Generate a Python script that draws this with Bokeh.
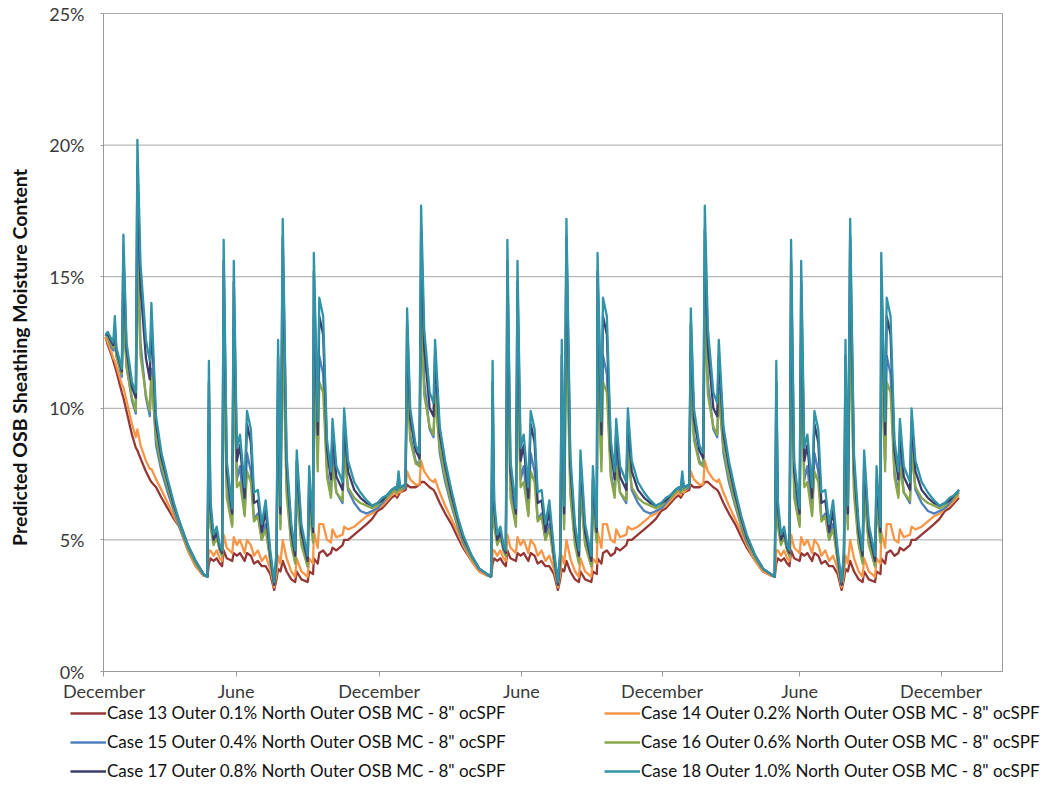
from bokeh.plotting import figure
from bokeh.models import Range1d, FixedTicker, PrintfTickFormatter, Legend, LegendItem, LinearAxis
from bokeh.embed import file_html
from bokeh.resources import INLINE

# ---- axes ----
x_start, x_end = 6.4, 1163          # plotted day span (days from 1 December of year 1)
y_ticks = [0, 5, 10, 15, 20, 25]
tick_days = [7, 177, 361, 544, 725, 902, 1084]
tick_labels = ["December", "June", "December", "June", "December", "June", "December"]

# ---- day grid of the repeating yearly cycle (days after 1 December) ----
cycle_days = [0, 6, 12, 17, 19, 21, 23, 30, 32, 36, 43, 48, 50, 54, 61, 66, 68, 74, 81, 89,
              97, 104, 115, 125, 135, 140, 142, 144, 148, 152, 156, 159, 161, 165, 172, 174, 178, 182, 188, 191,
              196, 200, 205, 210, 215, 221, 226, 229, 231, 234, 237, 242, 248, 253, 255, 261, 269, 271, 276, 277,
              282, 284, 289, 294, 299, 301, 306, 314, 316, 321, 329, 337, 345, 352, 359]

# ---- day grid of the first winter (initial dry-down) ----
y1_days = [9, 12, 17, 19, 21, 23, 30, 32, 36, 43, 48, 50, 54, 61, 66, 68, 74, 81, 89, 97, 104, 115, 125, 135]

# ---- series values (%) : first winter ----
case13_y1 = [12.7, 12.4, 12.0, 11.8, 11.6, 11.4, 10.6, 10.4, 9.9, 9.0, 8.5, 8.4, 8.1, 7.6, 7.3, 7.2, 7.0, 6.6, 6.2, 5.8, 5.5, 4.6, 4.0, 3.65]
case14_y1 = [12.7, 12.5, 12.1, 11.9, 11.8, 11.6, 10.9, 10.8, 10.3, 9.4, 8.9, 9.2, 8.6, 8.0, 7.7, 7.7, 7.3, 6.9, 6.4, 5.9, 5.5, 4.6, 4.0, 3.65]
case15_y1 = [12.8, 12.7, 12.3, 12.2, 12.6, 12.0, 11.2, 14.5, 11.6, 10.3, 9.8, 17.0, 12.5, 10.4, 9.7, 11.5, 8.6, 7.6, 6.8, 6.1, 5.5, 4.7, 4.1, 3.7]
case16_y1 = [12.8, 12.7, 12.4, 12.3, 12.5, 12.0, 11.3, 13.5, 11.6, 10.4, 9.9, 15.5, 12.0, 10.5, 9.9, 11.2, 8.9, 7.8, 7.0, 6.2, 5.6, 4.7, 4.1, 3.7]
case17_y1 = [12.8, 12.8, 12.5, 12.4, 13.1, 12.2, 11.4, 16.0, 12.2, 10.8, 10.4, 19.3, 14.6, 11.9, 11.1, 13.3, 9.4, 8.1, 7.2, 6.3, 5.7, 4.8, 4.2, 3.7]
case18_y1 = [12.8, 12.9, 12.6, 12.5, 13.5, 12.3, 11.5, 16.6, 12.5, 11.0, 10.6, 20.2, 15.5, 12.6, 11.8, 14.0, 9.7, 8.3, 7.3, 6.4, 5.7, 4.8, 4.2, 3.7]

# ---- series values (%) : repeating yearly cycle ----
case13_cyc = [6.2, 6.4, 6.6, 6.7, 6.6, 6.7, 6.8, 6.9, 7.1, 7.0, 7.0, 7.1, 7.2, 7.2, 7.0, 6.9, 6.8, 6.4, 6.0, 5.6,
              5.1, 4.7, 4.2, 3.8, 3.65, 3.6, 4.1, 4.3, 4.2, 4.3, 4.1, 4.0, 4.6, 4.3, 4.2, 4.5, 4.4, 4.5, 4.2, 4.5,
              4.4, 4.1, 4.2, 4.0, 4.0, 3.7, 3.1, 3.5, 3.9, 3.8, 4.2, 3.8, 3.5, 3.4, 3.8, 3.5, 3.4, 3.8, 3.7, 4.3,
              4.1, 4.5, 4.6, 4.4, 4.5, 4.7, 4.6, 4.8, 5.0, 5.0, 5.2, 5.4, 5.6, 5.8, 6.1]
case14_cyc = [6.3, 6.5, 6.7, 6.8, 6.7, 6.9, 6.8, 7.0, 7.6, 7.3, 7.1, 7.1, 8.0, 7.6, 7.3, 7.2, 7.3, 6.8, 6.3, 5.8,
              5.3, 4.8, 4.2, 3.8, 3.65, 3.6, 4.6, 4.6, 4.4, 4.6, 4.3, 4.2, 5.2, 4.7, 4.5, 5.1, 4.8, 5.0, 4.5, 5.0,
              4.8, 4.4, 4.6, 4.2, 4.4, 3.9, 3.2, 3.7, 4.4, 4.1, 5.0, 4.3, 3.8, 3.6, 4.3, 3.8, 3.6, 4.3, 4.1, 5.3,
              4.7, 5.6, 5.6, 5.0, 4.9, 5.4, 5.1, 5.2, 5.5, 5.4, 5.5, 5.7, 5.9, 6.0, 6.2]
case15_cyc = [6.4, 6.6, 6.8, 6.9, 6.8, 7.2, 6.9, 7.0, 12.0, 9.0, 8.0, 7.8, 15.0, 11.0, 9.2, 8.9, 10.8, 8.3, 7.2, 6.3,
              5.5, 4.9, 4.3, 3.9, 3.7, 3.6, 9.5, 5.8, 4.9, 5.2, 4.6, 4.4, 13.5, 7.0, 5.6, 13.0, 7.3, 7.8, 6.0, 8.3,
              7.6, 5.8, 6.0, 5.0, 5.6, 4.2, 3.3, 4.2, 10.5, 5.6, 14.5, 7.0, 4.9, 4.2, 7.2, 4.9, 4.0, 6.6, 5.0, 13.5,
              8.0, 12.0, 11.3, 7.6, 6.7, 8.3, 6.8, 6.4, 8.6, 6.9, 6.4, 6.1, 6.0, 6.1, 6.2]
case16_cyc = [6.5, 6.6, 6.8, 6.9, 6.8, 7.2, 6.9, 7.1, 11.0, 8.8, 7.9, 7.8, 13.5, 10.5, 9.3, 9.0, 10.5, 8.5, 7.4, 6.4,
              5.6, 5.0, 4.3, 3.9, 3.7, 3.6, 8.5, 5.5, 4.8, 5.1, 4.6, 4.4, 12.0, 6.6, 5.5, 11.5, 7.0, 7.2, 5.9, 7.6,
              7.2, 5.7, 5.9, 5.0, 5.4, 4.2, 3.3, 4.1, 9.5, 5.4, 13.0, 6.7, 4.8, 4.1, 6.8, 4.8, 4.0, 6.3, 4.9, 12.0,
              7.6, 11.0, 10.6, 7.4, 6.6, 7.8, 6.8, 6.5, 8.3, 7.0, 6.6, 6.4, 6.3, 6.2, 6.3]
case17_cyc = [6.5, 6.7, 6.9, 7.0, 6.9, 7.4, 7.0, 7.1, 13.2, 9.6, 8.4, 8.1, 16.8, 12.3, 10.0, 9.7, 12.0, 9.0, 7.8, 6.7,
              5.8, 5.1, 4.4, 3.9, 3.7, 3.6, 11.0, 6.2, 5.0, 5.3, 4.7, 4.5, 15.6, 7.6, 6.0, 14.8, 8.0, 8.6, 6.6, 9.4,
              8.7, 6.4, 6.5, 5.3, 6.1, 4.4, 3.3, 4.4, 12.0, 6.0, 16.5, 7.8, 5.3, 4.4, 8.0, 5.3, 4.2, 7.3, 5.3, 15.2,
              9.0, 13.5, 12.8, 8.4, 7.3, 9.1, 7.4, 6.9, 9.5, 7.6, 6.9, 6.6, 6.4, 6.3, 6.4]
case18_cyc = [6.6, 6.7, 6.9, 7.0, 6.9, 7.6, 7.0, 7.1, 13.8, 10.0, 8.6, 8.3, 17.7, 13.0, 10.6, 10.2, 12.6, 9.3, 8.0, 6.9,
              5.9, 5.2, 4.4, 3.9, 3.7, 3.6, 11.8, 6.5, 5.2, 5.5, 4.8, 4.6, 16.4, 8.0, 6.2, 15.6, 8.5, 9.0, 7.0, 9.9,
              9.2, 6.8, 6.9, 5.6, 6.5, 4.6, 3.4, 4.6, 12.6, 6.3, 17.2, 8.2, 5.6, 4.6, 8.4, 5.6, 4.4, 7.8, 5.5, 15.9,
              9.5, 14.2, 13.5, 8.8, 7.6, 9.6, 7.8, 7.2, 10.0, 8.0, 7.2, 6.8, 6.5, 6.3, 6.4]

names = [
    'Case 13 Outer 0.1% North Outer OSB MC - 8" ocSPF',
    'Case 14 Outer 0.2% North Outer OSB MC - 8" ocSPF',
    'Case 15 Outer 0.4% North Outer OSB MC - 8" ocSPF',
    'Case 16 Outer 0.6% North Outer OSB MC - 8" ocSPF',
    'Case 17 Outer 0.8% North Outer OSB MC - 8" ocSPF',
    'Case 18 Outer 1.0% North Outer OSB MC - 8" ocSPF',
]
colors = ["#953735", "#F79646", "#4F81BD", "#8AA64A", "#3D3D6B", "#3193A8"]

FONT = "Lato"
W, H = 1050, 795
AXIS_GRAY = "#9a9a9a"

# pixel layout of the plotting area (the frame covers the whole canvas,
# so that the legend underneath the axes can sit inside it)
PX_LEFT, PX_RIGHT, PX_TOP, PX_ZERO, PX_BOTTOM = 103, 1002, 13, 671, H - 8
sx = (PX_RIGHT - PX_LEFT) / (x_end - x_start)
sy = (PX_ZERO - PX_TOP) / (y_ticks[-1] - y_ticks[0])
xr = Range1d(x_start - PX_LEFT / sx, x_end + (W - PX_RIGHT) / sx)
yr = Range1d(y_ticks[0] - (PX_BOTTOM - PX_ZERO) / sy, y_ticks[-1] + PX_TOP / sy)


def build(y1_vals, cyc_vals):
    xs = list(y1_days)
    ys = list(y1_vals)
    i0 = cycle_days.index(140)
    xs += cycle_days[i0:]
    ys += cyc_vals[i0:]
    for yr_ in (1, 2):
        xs += [d + 365 * yr_ for d in cycle_days]
        ys += cyc_vals
    xs += [d + 1095 for d in cycle_days[:3]]
    ys += cyc_vals[:3]
    return xs, ys


p = figure(width=W, height=H, output_backend="svg", toolbar_location=None,
           x_range=xr, y_range=yr,
           min_border_left=0, min_border_right=0, min_border_top=0, min_border_bottom=H - PX_BOTTOM)
p.background_fill_color = "white"
p.border_fill_color = "white"
p.outline_line_color = None
p.xgrid.grid_line_color = None
p.ygrid.grid_line_color = None

# horizontal gridlines and right border of the plot area
p.segment(x0=[x_start] * (len(y_ticks) - 1), x1=[x_end] * (len(y_ticks) - 1),
          y0=y_ticks[1:], y1=y_ticks[1:], line_color="#a6a6a6", line_width=1)
p.segment(x0=[x_end], x1=[x_end], y0=[y_ticks[0]], y1=[y_ticks[-1]], line_color=AXIS_GRAY, line_width=1)

# axes drawn at the plot-area edges
p.yaxis.fixed_location = x_start
p.yaxis.bounds = (y_ticks[0], y_ticks[-1])
p.xaxis.fixed_location = y_ticks[0]
p.xaxis.bounds = (x_start, x_end)
p.yaxis.ticker = FixedTicker(ticks=y_ticks)
p.yaxis.formatter = PrintfTickFormatter(format="%d%%")
p.xaxis.ticker = FixedTicker(ticks=tick_days)
p.xaxis.major_label_overrides = {d: lab for d, lab in zip(tick_days, tick_labels)}
for ax in (p.xaxis, p.yaxis):
    ax.minor_tick_line_color = None
    ax.axis_line_color = AXIS_GRAY
    ax.major_tick_line_color = AXIS_GRAY
    ax.major_tick_in = 0
    ax.major_label_text_font = FONT
    ax.major_label_text_font_size = "18px"
    ax.major_label_text_color = "#3a3a3a"
p.xaxis.major_tick_out = 5
p.yaxis.major_tick_out = 3
p.xaxis.major_label_standoff = 3
p.yaxis.major_label_standoff = 16

# y-axis title, carried by a bare axis so it can be centred like the original
title_axis = LinearAxis(fixed_location=x_start, bounds=(-1.14, y_ticks[-1]),
                        ticker=FixedTicker(ticks=[]), axis_line_color=None,
                        major_tick_line_color=None, minor_tick_line_color=None,
                        axis_label="Predicted OSB Sheathing Moisture Content",
                        axis_label_text_font=FONT, axis_label_text_font_style="bold",
                        axis_label_text_font_size="19.5px", axis_label_text_color="#111111",
                        axis_label_standoff=73)
p.add_layout(title_axis, "left")

y1_sets = [case13_y1, case14_y1, case15_y1, case16_y1, case17_y1, case18_y1]
cyc_sets = [case13_cyc, case14_cyc, case15_cyc, case16_cyc, case17_cyc, case18_cyc]
renderers = []
for y1v, cv, col in zip(y1_sets, cyc_sets, colors):
    xs, ys = build(y1v, cv)
    renderers.append(p.line(xs, ys, line_color=col, line_width=2.3, line_join="round"))

leg_kw = dict(label_text_font=FONT, label_text_font_size="17px", label_text_color="#111111",
              glyph_width=36, glyph_height=20, label_height=20, label_standoff=1, spacing=8,
              padding=0, margin=0, border_line_color=None, background_fill_alpha=0)
leg_bottom = 6
legend_left = Legend(items=[LegendItem(label=names[i], renderers=[renderers[i]]) for i in (0, 2, 4)],
                     location=(70, leg_bottom), **leg_kw)
legend_right = Legend(items=[LegendItem(label=names[i], renderers=[renderers[i]]) for i in (1, 3, 5)],
                      location=(604, leg_bottom), **leg_kw)
p.add_layout(legend_left)
p.add_layout(legend_right)

open("out.html", "w").write(file_html(p, INLINE))
